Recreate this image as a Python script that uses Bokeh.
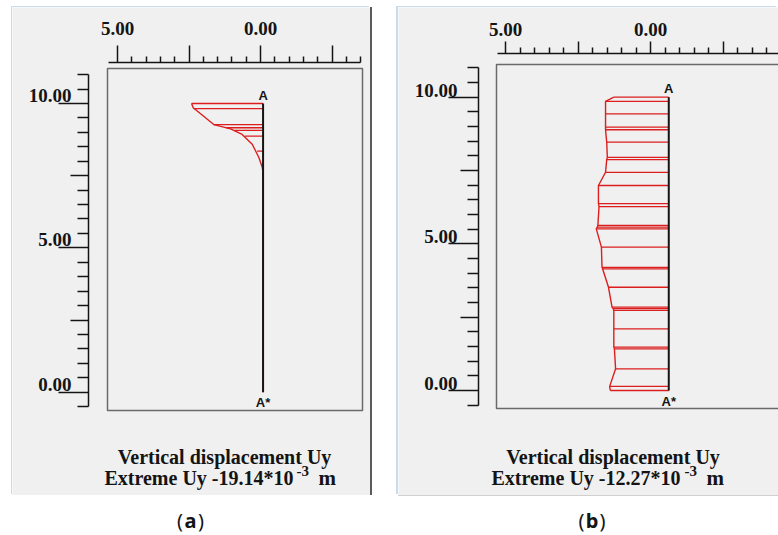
from bokeh.plotting import figure
from bokeh.models import Range1d, LinearAxis, FixedTicker, NumeralTickFormatter, Label, BoxAnnotation, Spacer
from bokeh.layouts import row, column
from bokeh.embed import file_html
from bokeh.resources import INLINE

# ---------------- data ----------------
X_TICKS_LABELLED = [5.0, 0.0]
X_TICKS_PLAIN = [2.5, -2.5]
X_MINOR = [-4.0, -3.5, -3.0, -2.0, -1.5, -1.0, -0.5, 0.5, 1.0, 1.5, 2.0, 3.0, 3.5, 4.0, 4.5]
Y_TICKS_MAJOR = [0.0, 5.0, 10.0]
Y_TICKS_MEDIUM = [2.5, 7.5]
Y_MINOR = [-0.5, 0.5, 1.0, 1.5, 2.0, 3.0, 3.5, 4.0, 4.5, 5.5, 6.0, 6.5, 7.0,
           8.0, 8.5, 9.0, 9.5, 10.5, 11.0]
Y_AXIS_BOUNDS = (-0.5, 11.0)

WALL_TOP = 10.0
WALL_BOTTOM = 0.0

# panel (a)
A_EXTREME = -19.14          # Uy in 1e-3 m
A_WALL_X = -0.09
A_OUTLINE_Y = [10.00, 9.85, 9.27, 9.12, 8.93, 8.59, 8.12, 7.78, 7.60, 0.00]
A_OUTLINE_UY = [-19.14, -18.70, -13.20, -8.70, -5.60, -2.90, -1.10, -0.20, 0.00, 0.00]
A_HATCH_Y = [10.00, 9.82, 9.27, 9.16, 9.07, 8.87, 8.35, 7.88]
A_HATCH_UY = [-19.14, -18.60, -13.20, -9.90, -7.60, -4.90, -1.60, -0.50]

# panel (b)
B_EXTREME = -12.27
B_WALL_X = -0.63
B_NODE_Y = [10.00, 9.86, 9.43, 8.98, 8.89, 8.47, 7.95, 7.87, 7.44, 6.99, 6.37, 6.27,
            5.63, 5.57, 5.51, 4.89, 4.20, 4.15, 3.52, 2.84, 2.79, 2.73, 2.10, 1.48,
            1.42, 0.74, 0.14, 0.00]
B_NODE_UY = [-9.3, -10.7, -10.7, -10.7, -10.7, -10.5, -10.4, -10.5, -10.7, -11.9, -11.9, -11.8,
             -12.0, -12.1, -12.27, -11.4, -11.3, -11.2, -10.2, -9.6, -9.4, -9.3, -9.3, -9.3,
             -9.2, -9.0, -10.0, -9.9]

TITLE_LINE1 = "Vertical displacement Uy"
A_LINE2 = "Extreme Uy -19.14*10"
B_LINE2 = "Extreme Uy -12.27*10"
SUP = "-3"
UNIT = "m"

# ---------------- style / layout ----------------
BG = "#f0f0f0"
INK = "#141414"
RED = "#dc1e1e"
BOX = "#6a6a6a"
SERIF = "Liberation Serif"
SANS = "Liberation Sans"
DIAGRAM_LEN = 2.5   # drawn length of the extreme value, in plot units

GEO_A = dict(fig=(12, 7, 358, 488), box=(107, 68, 362, 410),
             x0=260.0, ppx=28.6, y0=391.7, ppy=28.87,
             top_axis_py=62, top_axis_from=108, top_axis_to=360, top_major=17, top_standoff=11,
             left_axis_px=88, label_right_px=71, label_up=8,
             line1=(224, 456), line2=(293, 477), sup=(296, 470), unit=(318, 477))
GEO_B = dict(fig=(398, 7, 380, 488), box=(496, 64, 800, 408),
             x0=650.0, ppx=29.0, y0=390.0, ppy=29.33,
             top_axis_py=53, top_axis_from=497, top_axis_to=778, top_major=12, top_standoff=6,
             left_axis_px=478, label_right_px=457, label_up=7,
             line1=(612.5, 456), line2=(680, 477), sup=(684, 470), unit=(706, 477))


def make_panel(g, wall_x, extreme, out_y, out_uy, hatch_y, hatch_uy, line2):
    fx, fy, fw, fh = g["fig"]
    l, t, r, b = g["box"]
    dx = lambda px: (g["x0"] - px) / g["ppx"]
    dy = lambda py: (g["y0"] - py) / g["ppy"]

    p = figure(width=fw, height=fh, output_backend="svg", toolbar_location=None,
               x_axis_type=None, y_axis_type=None, title=None,
               x_range=Range1d(dx(fx), dx(fx + fw)), y_range=Range1d(dy(fy + fh), dy(fy)),
               min_border=0, outline_line_color=None,
               background_fill_color=BG, border_fill_color=BG)
    p.add_layout(BoxAnnotation(left=dx(l), right=dx(r), top=dy(t), bottom=dy(b),
                               fill_color=None, fill_alpha=0, line_color=BOX, line_alpha=1.0,
                               line_width=1.5, level="underlay"))

    common = dict(axis_line_color=INK, axis_line_width=1.5,
                  major_tick_line_color=INK, major_tick_line_width=1.5,
                  minor_tick_line_color=INK, minor_tick_line_width=1.5,
                  major_tick_in=0, minor_tick_in=0,
                  major_label_text_font=SERIF, major_label_text_font_style="bold",
                  major_label_text_font_size="19px", major_label_text_color=INK)

    # top axis
    xa, xb = dx(g["top_axis_from"]), dx(g["top_axis_to"])
    t1 = LinearAxis(fixed_location=dy(g["top_axis_py"]),
                    ticker=FixedTicker(ticks=X_TICKS_LABELLED, minor_ticks=X_MINOR),
                    formatter=NumeralTickFormatter(format="0.00"),
                    major_tick_out=g["top_major"], minor_tick_out=6, bounds=(min(xa, xb), max(xa, xb)),
                    major_label_standoff=g["top_standoff"], **common)
    p.add_layout(t1, "above")
    t2 = LinearAxis(fixed_location=dy(g["top_axis_py"]),
                    ticker=FixedTicker(ticks=X_TICKS_PLAIN, minor_ticks=[]),
                    major_tick_out=g["top_major"], minor_tick_out=0, **common)
    t2.axis_line_color = None
    t2.major_label_text_color = None
    p.add_layout(t2, "above")

    # left axis: long ticks + minor ticks
    lx = dx(g["left_axis_px"])
    l1 = LinearAxis(fixed_location=lx,
                    ticker=FixedTicker(ticks=Y_TICKS_MAJOR, minor_ticks=Y_MINOR),
                    major_tick_out=30, minor_tick_out=11, bounds=Y_AXIS_BOUNDS, **common)
    l1.major_label_text_color = None
    p.add_layout(l1, "left")
    l2 = LinearAxis(fixed_location=lx,
                    ticker=FixedTicker(ticks=Y_TICKS_MEDIUM, minor_ticks=[]),
                    major_tick_out=18, minor_tick_out=0, **common)
    l2.axis_line_color = None
    l2.major_label_text_color = None
    p.add_layout(l2, "left")
    # labels sit just above their ticks: a shifted copy of the y range
    shift = g["label_up"] / g["ppy"]
    p.extra_y_ranges = {"lab": Range1d(dy(fy + fh) - shift, dy(fy) - shift)}
    l3 = LinearAxis(fixed_location=lx, y_range_name="lab",
                    ticker=FixedTicker(ticks=Y_TICKS_MAJOR, minor_ticks=[]),
                    formatter=NumeralTickFormatter(format="0.00"),
                    major_tick_out=0, minor_tick_out=0,
                    major_label_standoff=g["left_axis_px"] - g["label_right_px"], **common)
    l3.axis_line_color = None
    l3.major_tick_line_color = None
    l3.minor_tick_line_color = None
    p.add_layout(l3, "left")

    # displacement diagram
    ox = [wall_x + u / extreme * DIAGRAM_LEN for u in out_uy]
    hx = [wall_x + u / extreme * DIAGRAM_LEN for u in hatch_uy]
    p.segment(x0=[wall_x] * len(hx), y0=hatch_y, x1=hx, y1=hatch_y, line_color=RED, line_width=1.3)
    p.line(ox, out_y, line_color=RED, line_width=1.4)
    p.line([wall_x, wall_x], [WALL_BOTTOM, WALL_TOP], line_color=INK, line_width=2)

    p.add_layout(Label(x=wall_x, y=WALL_TOP, text="A", text_align="center", text_baseline="bottom",
                       y_offset=1, text_font=SANS, text_font_style="bold", text_font_size="13px",
                       text_color=INK))
    p.add_layout(Label(x=wall_x, y=WALL_BOTTOM, text="A*", text_align="center", text_baseline="top",
                       y_offset=-3, text_font=SANS, text_font_style="bold", text_font_size="13px",
                       text_color=INK))

    cap = dict(text_font=SERIF, text_font_style="bold", text_color=INK, text_baseline="alphabetic")
    x1, y1 = g["line1"]
    p.add_layout(Label(x=dx(x1), y=dy(y1), text=TITLE_LINE1, text_align="center", text_font_size="20px", **cap))
    x2, y2 = g["line2"]
    p.add_layout(Label(x=dx(x2), y=dy(y2), text=line2, text_align="right", text_font_size="20px", **cap))
    x3, y3 = g["sup"]
    p.add_layout(Label(x=dx(x3), y=dy(y3), text=SUP, text_align="left", text_font_size="15px", **cap))
    x4, y4 = g["unit"]
    p.add_layout(Label(x=dx(x4), y=dy(y4), text=UNIT, text_align="left", text_font_size="21px", **cap))
    return p


pa = make_panel(GEO_A, A_WALL_X, A_EXTREME, A_OUTLINE_Y, A_OUTLINE_UY, A_HATCH_Y, A_HATCH_UY, A_LINE2)
pb = make_panel(GEO_B, B_WALL_X, B_EXTREME, B_NODE_Y, B_NODE_UY, B_NODE_Y, B_NODE_UY, B_LINE2)
pa.styles = {"box-shadow": "2px 0 0 #5a5a5a, -1px -1px 0 #c9dcee"}
pb.styles = {"box-shadow": "-2px -1px 0 #c9dcee, 0 1px 0 #a0a0a0"}

# caption strip with (a) / (b)
cap = figure(width=778, height=40, output_backend="svg", toolbar_location=None,
             x_axis_type=None, y_axis_type=None, title=None,
             x_range=Range1d(0, 778), y_range=Range1d(535, 495),
             min_border=0, outline_line_color=None,
             background_fill_color="white", border_fill_color="white")
for cx, letter in [(190, "a"), (591.5, "b")]:
    base = dict(y=520, text_baseline="middle", text_font="Noto Sans", text_font_size="20px", text_color=INK)
    cap.add_layout(Label(x=cx - 7.5, text="(", text_align="right", **base))
    cap.add_layout(Label(x=cx, text=letter, text_align="center", text_font_style="bold", **base))
    cap.add_layout(Label(x=cx + 7.5, text=")", text_align="left", **base))

layout = column(Spacer(width=778, height=7),
                row(Spacer(width=12, height=488), pa, Spacer(width=28, height=488), pb),
                cap)

open("out.html", "w").write(file_html(layout, INLINE))
